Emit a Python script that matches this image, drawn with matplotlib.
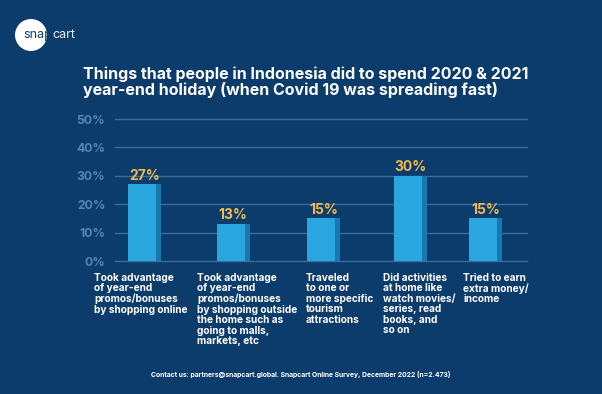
import matplotlib as mpl
import matplotlib.pyplot as plt
from matplotlib.patches import Circle

mpl.rcParams.update({
    "font.family": "Inter",
    "font.weight": "bold",
})

BG = "#0c3c6b"
BAR = "#2aa6df"
BAR_SHADE = "#1679b2"
GRID = "#3a6c9c"
TICK = "#5784b0"
VAL = "#f2b94a"

categories = [
    "Took advantage\nof year-end\npromos/bonuses\nby shopping online",
    "Took advantage\nof year-end\npromos/bonuses\nby shopping outside\nthe home such as\ngoing to malls,\nmarkets, etc",
    "Traveled\nto one or\nmore specific\ntourism\nattractions",
    "Did activities\nat home like\nwatch movies/\nseries, read\nbooks, and\nso on",
    "Tried to earn\nextra money/\nincome",
]
values = [27, 13, 15, 30, 15]
yticks = [0, 10, 20, 30, 40, 50]

# bar centres (slightly uneven in the original layout)
xpos = [0, 1.04, 2.1, 3.12, 4]
width = 0.39
shade_w = 0.055

fig = plt.figure(figsize=(6.02, 3.94), dpi=100)
fig.patch.set_facecolor(BG)
ax = fig.add_axes([115 / 602, 1 - 261 / 394, 412 / 602, 142 / 394])
ax.set_facecolor(BG)
ax.set_xlim(-0.346, 4.487)
ax.set_ylim(0, 50)

for y in yticks:
    ax.axhline(y, color=GRID, lw=1.0, zorder=1, clip_on=False)

for x, v in zip(xpos, values):
    ax.bar(x, v, width=width, color=BAR, zorder=2)
    ax.bar(x + width / 2 - shade_w / 2, v, width=shade_w, color=BAR_SHADE, zorder=3)
    ax.text(x, v + 0.6, f"{v}%", ha="center", va="bottom", color=VAL,
            fontsize=10, fontweight="bold")

ax.set_xticks([])
ax.set_yticks(yticks)
ax.set_yticklabels([f"{t}%" for t in yticks], color=TICK, fontsize=8.8)
ax.tick_params(axis="y", length=0, pad=7)
for s in ax.spines.values():
    s.set_visible(False)

# category labels under the bars, left aligned
label_x = [94, 197, 306, 383, 463]
for lx, txt in zip(label_x, categories):
    fig.text(lx / 602, 1 - 273 / 394, txt, ha="left", va="top", color="white",
             fontsize=7.3, fontweight="bold", linespacing=1.05)

# title
fig.text(83 / 602, 1 - 66 / 394,
         "Things that people in Indonesia did to spend 2020 & 2021\n"
         "year-end holiday (when Covid 19 was spreading fast)",
         ha="left", va="top", color="white", fontsize=11.5, fontweight="bold",
         linespacing=1.05)

# footer
fig.text(301 / 602, 1 - 374 / 394,
         "Contact us: partners@snapcart.global. Snapcart Online Survey, December 2022 (n=2.473)",
         ha="center", va="center", color="white", fontsize=4.9, fontweight="bold")

# logo (circle placed in inches so it stays round)
circ = Circle((0.31, 3.94 - 0.35), 0.16, transform=fig.dpi_scale_trans,
              facecolor="white", edgecolor="none")
fig.patches.append(circ)
t1 = fig.text(23.5 / 602, 1 - 35 / 394, "snap", ha="left", va="center", color=BG,
              fontsize=9, fontweight="normal")
fig.canvas.draw()
bb = t1.get_window_extent().transformed(fig.transFigure.inverted())
fig.text(bb.x1, 1 - 35 / 394, "cart", ha="left", va="center", color="#e8eef5",
         fontsize=9, fontweight="normal")

fig.savefig("out.png", dpi=100, facecolor=BG)
